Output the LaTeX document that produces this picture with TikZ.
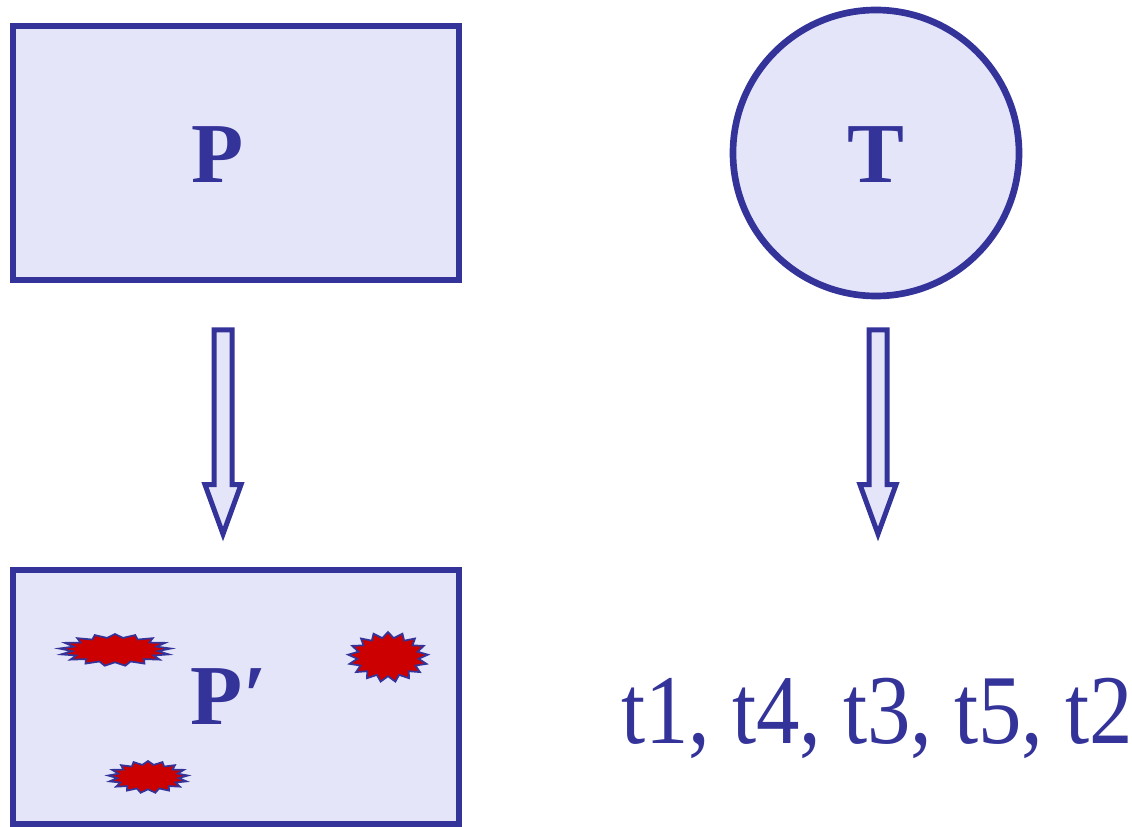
\documentclass[tikz,border=0pt]{standalone}
\usepackage{fontspec}
\setmainfont{Liberation Serif}
\usetikzlibrary{shapes.geometric}
\definecolor{navy}{RGB}{51,51,153}
\definecolor{lav}{RGB}{229,229,250}
\definecolor{burst}{RGB}{204,0,0}
\begin{document}
\begin{tikzpicture}[x=0.75pt,y=-0.75pt,
  boxst/.style={draw=navy,fill=lav,line width=5pt,rectangle,minimum width=334.5pt,minimum height=190.5pt,inner sep=0pt},
  circst/.style={draw=navy,fill=lav,line width=5pt,circle,minimum size=214.5pt,inner sep=0pt},
  big/.style={text=navy,font=\fontsize{64}{70}\selectfont\bfseries,inner sep=0pt},
  seq/.style={text=navy,font=\fontsize{74}{80}\selectfont,inner sep=0pt},
  blockarrow/.style={draw=navy,fill=lav,line width=3.75pt,line join=miter},
  burstst/.style={star,star points=17,star point ratio=1.3,draw=navy,fill=burst,line width=1.3pt,inner sep=0pt}
]
\useasboundingbox (0,0) rectangle (1132,827);
\node[boxst] (P) at (236,153) {};
\node[big] (Ptext) at (218,155) {P};
\node[circst] (T) at (876,153) {};
\node[big] (Ttext) at (876,155) {T};
\node[boxst] (Pp) at (236,697) {};
\node[burstst,minimum size=24pt,xscale=3.5,transform shape] (b1) at (115,650) {};
\node[burstst,minimum size=37.5pt,xscale=1.6,transform shape] (b2) at (388,657) {};
\node[burstst,minimum size=24pt,xscale=2.5,transform shape] (b3) at (148,777) {};
\node[big] (Pptext) at (229,697) {P′};
\node[seq] (seqtext) at (877,718) {\scalebox{0.88}[1]{t1, t4, t3, t5, t2}};
\coordinate (a1) at (223,330);
\coordinate (a2) at (878,330);
\foreach \a in {a1,a2}{
  \draw[blockarrow] ([xshift=-6.75pt]\a) -- ([xshift=6.75pt]\a) -- ([xshift=6.75pt,yshift=-116pt]\a) -- ([xshift=13.5pt,yshift=-116pt]\a) -- ([yshift=-153pt]\a) -- ([xshift=-13.5pt,yshift=-116pt]\a) -- ([xshift=-6.75pt,yshift=-116pt]\a) -- cycle;
}
\end{tikzpicture}
\end{document}
